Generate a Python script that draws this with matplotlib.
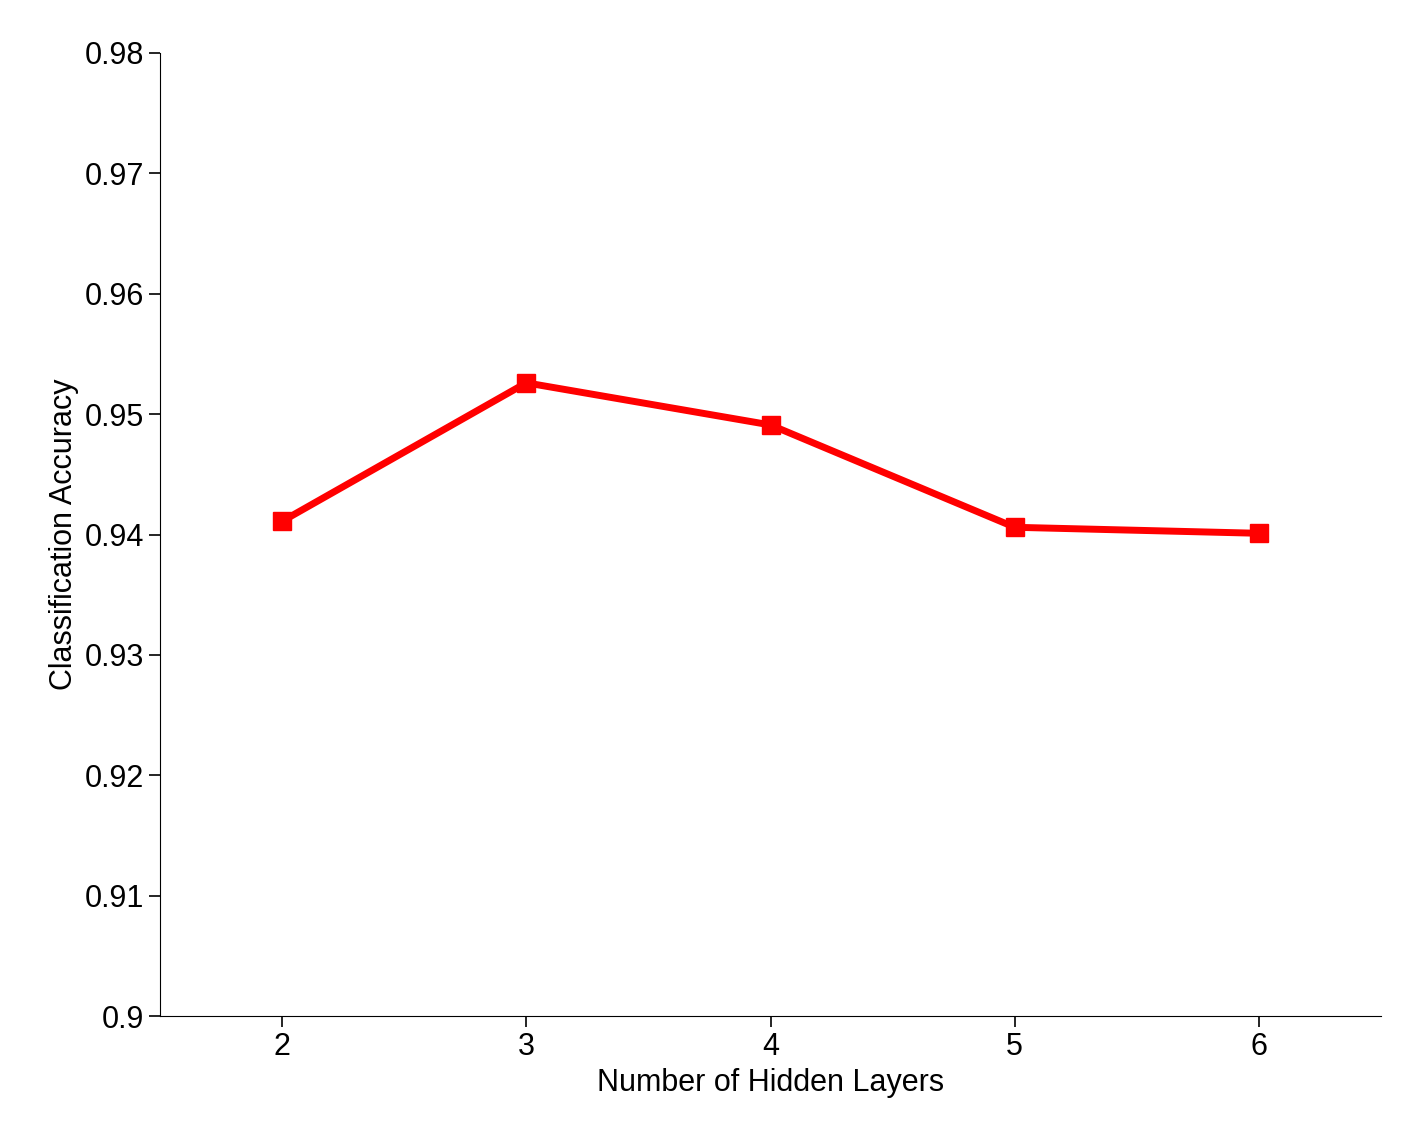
import matplotlib
matplotlib.use("Agg")
import matplotlib.pyplot as plt

layers = [2, 3, 4, 5, 6]
accuracy = [0.9411, 0.9526, 0.9491, 0.9406, 0.9401]
y_ticks = [0.9, 0.91, 0.92, 0.93, 0.94, 0.95, 0.96, 0.97, 0.98]
y_labels = ['0.9', '0.91', '0.92', '0.93', '0.94', '0.95', '0.96', '0.97', '0.98']

plt.rcParams['font.family'] = ['Liberation Sans', 'DejaVu Sans']

fig = plt.figure(figsize=(14.04, 11.40), dpi=100)
ax = fig.add_axes([160 / 1404, 1 - 1016 / 1140, (1381 - 160) / 1404, (1016 - 53) / 1140])

ax.plot(layers, accuracy, color='red', linewidth=5, marker='s', markersize=13)

ax.set_xlim(1.5, 6.5)
ax.set_ylim(0.9, 0.98)
ax.set_xticks(layers)
ax.set_yticks(y_ticks)
ax.set_yticklabels(y_labels)
ax.tick_params(labelsize=22, length=8, width=1.2, direction='out')
ax.spines['top'].set_visible(False)
ax.spines['right'].set_visible(False)
ax.set_xlabel('Number of Hidden Layers', fontsize=22)
ax.set_ylabel('Classification Accuracy', fontsize=22)

fig.savefig('out.png', dpi=100)
